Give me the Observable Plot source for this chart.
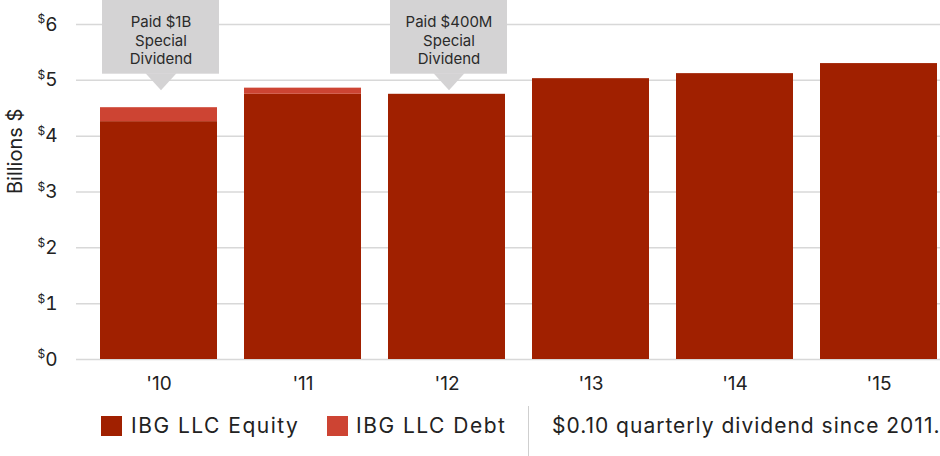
<!DOCTYPE html>
<html>
<head>
<meta charset="utf-8">
<script src="https://cdn.jsdelivr.net/npm/d3@7"></script>
<script src="https://cdn.jsdelivr.net/npm/@observablehq/plot@0.6"></script>
<style>
  html, body { margin: 0; padding: 0; background: #fff; }
  body { width: 940px; height: 456px; overflow: hidden; font-family: Inter, "Noto Sans", sans-serif; color: #222; }
  #legend { position: relative; width: 940px; height: 56px; }
  #legend .sw { position: absolute; width: 21px; height: 20px; top: 16px; }
  #legend .lab { position: absolute; font-size: 21px; line-height: 21px; top: 15px; white-space: nowrap; color: #222; letter-spacing: 1.5px; }
  #legend .note { letter-spacing: 1px; }
  #legend .sep { position: absolute; left: 528px; top: 6px; width: 1px; height: 50px; background: #cfcfcf; }
</style>
</head>
<body>
<div id="chart"></div>
<div id="legend"></div>
<script>
const years = ["'10", "'11", "'12", "'13", "'14", "'15"];
const equity = [4.26, 4.75, 4.75, 5.03, 5.12, 5.30];
const debt = [0.25, 0.11, 0, 0, 0, 0];
const yTicks = [0, 1, 2, 3, 4, 5, 6];
const seriesNames = ["IBG LLC Equity", "IBG LLC Debt"];
const seriesColors = ["#a02000", "#cd4433"];
const calloutYears = ["'10", "'12"];
const calloutTexts = ["Paid $1B\nSpecial\nDividend", "Paid $400M\nSpecial\nDividend"];
const note = "$0.10 quarterly dividend since 2011.";

const rows = [];
years.forEach((y, i) => {
  rows.push({year: y, series: seriesNames[0], value: equity[i]});
  rows.push({year: y, series: seriesNames[1], value: debt[i]});
});
const callouts = calloutYears.map((y, i) => ({year: y, text: calloutTexts[i]}));

const calloutBottom = 5.11;
const calloutTop = 6.45;
const pointer = {
  draw(ctx) {
    ctx.moveTo(-15.5, -1);
    ctx.lineTo(15.5, -1);
    ctx.lineTo(0, 16);
    ctx.closePath();
  }
};

const chart = Plot.plot({
  width: 940,
  height: 400,
  marginLeft: 76,
  marginRight: 0,
  marginTop: 24,
  marginBottom: 41,
  style: {fontFamily: "Inter, 'Noto Sans', sans-serif", color: "#222", background: "#fff"},
  x: {domain: years, paddingInner: 0.1875, paddingOuter: 0.09375, align: 0.889, label: null},
  y: {domain: [0, 6], label: null},
  color: {domain: seriesNames, range: seriesColors},
  marks: [
    Plot.ruleY(yTicks, {stroke: "#d8d8d8", strokeWidth: 1.5}),
    Plot.barY(rows, {x: "year", y: "value", fill: "series", order: seriesNames}),
    Plot.barY(callouts, {x: "year", y1: calloutBottom, y2: calloutTop, fill: "#d4d3d4", dx: 2}),
    Plot.dot(callouts, {x: "year", y: calloutBottom, symbol: pointer, fill: "#d4d3d4", stroke: null, r: 5, dx: 2}),
    Plot.text(callouts, {x: "year", text: "text", frameAnchor: "top", dy: 15, lineAnchor: "middle", lineHeight: 1.25, fontSize: 15, fill: "#2a2a2a", dx: 2}),
    Plot.axisY(yTicks, {tickSize: 0, tickPadding: 19, tickFormat: d => String(d), fontSize: 19, fill: "#222"}),
    Plot.axisX({tickSize: 0, tickPadding: 17, fontSize: 19, fill: "#222"}),
    Plot.text(["Billions $"], {frameAnchor: "left", dx: -61, dy: 2, rotate: -90, fontSize: 20, fill: "#222"})
  ]
});
document.getElementById("chart").appendChild(chart);

// superscript dollar sign on y tick labels
d3.select(chart).selectAll('g[aria-label="y-axis tick label"] text').each(function() {
  const t = d3.select(this);
  const v = t.text();
  t.text(null);
  t.append("tspan").attr("font-size", 12).attr("dy", "-0.6em").text("$");
  t.append("tspan").attr("dy", "0.38em").text(v);
});

// legend
const legend = d3.select("#legend");
legend.append("div").attr("class", "sw").style("left", "101px").style("background", seriesColors[0]);
legend.append("div").attr("class", "lab").style("left", "131px").text(seriesNames[0]);
legend.append("div").attr("class", "sw").style("left", "327px").style("background", seriesColors[1]);
legend.append("div").attr("class", "lab").style("left", "356px").text(seriesNames[1]);
legend.append("div").attr("class", "sep");
legend.append("div").attr("class", "lab note").style("left", "552px").text(note);
</script>
</body>
</html>
